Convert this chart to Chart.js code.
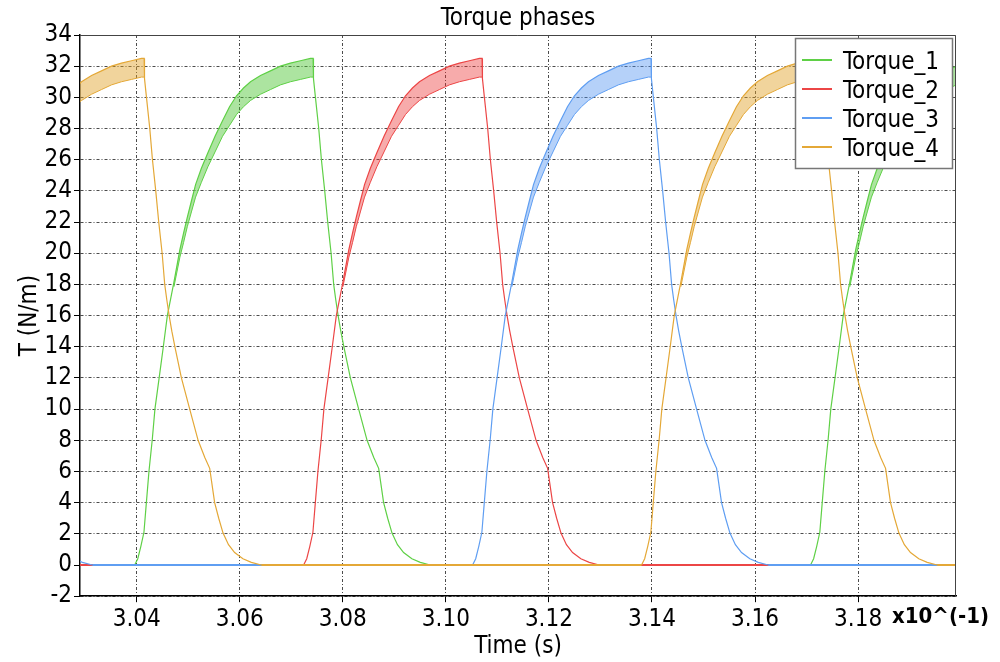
<!DOCTYPE html>
<html>
<head>
<meta charset="utf-8">
<title>Torque phases</title>
<script src="https://cdn.jsdelivr.net/npm/chart.js@4.4.1/dist/chart.umd.min.js"></script>
<style>
  html, body { margin: 0; padding: 0; background: #fff; }
  #wrap { width: 1000px; height: 662px; }
</style>
</head>
<body>
<div id="wrap"><canvas id="chart"></canvas></div>
<script>
// series names and colours
const SERIES = ['Torque_1', 'Torque_2', 'Torque_3', 'Torque_4'];
const LINE_COLORS = ['rgb(95,208,70)', 'rgb(236,70,70)', 'rgb(95,158,242)', 'rgb(228,168,55)'];
const BAND_COLORS = ['rgba(70,195,45,0.45)', 'rgba(235,45,45,0.40)', 'rgba(70,140,240,0.40)', 'rgba(225,160,35,0.45)'];

// axis ticks
const X_TICKS = [3.04, 3.06, 3.08, 3.10, 3.12, 3.14, 3.16, 3.18];
const Y_TICKS = [-2, 0, 2, 4, 6, 8, 10, 12, 14, 16, 18, 20, 22, 24, 26, 28, 30, 32, 34];
const X_MIN = 3.029, X_MAX = 3.199;

// start of each torque pulse
const ONSETS_1 = [3.03961, 3.17077];
const ONSETS_2 = [2.94124, 3.07240];
const ONSETS_3 = [2.97403, 3.10519];
const ONSETS_4 = [3.00682, 3.13798];

// one pulse, time since onset
const PULSE_DT = [0, 0.0006, 0.0012, 0.0018, 0.00227, 0.00277, 0.00343, 0.00393, 0.00475, 0.00556,
  0.00634, 0.00700, 0.00762, 0.00878, 0.00950, 0.01021, 0.01101, 0.01182, 0.01295, 0.01421,
  0.01560, 0.01705, 0.01841, 0.01977, 0.02112, 0.02248, 0.02442, 0.02636, 0.02829, 0.03023,
  0.03217, 0.03411, 0.03463, 0.03470, 0.03508, 0.03572, 0.03624, 0.03688, 0.03746, 0.03812,
  0.03862, 0.03903, 0.03948, 0.04000, 0.04060, 0.04186, 0.04347, 0.04510, 0.04640, 0.04735,
  0.04831, 0.04910, 0.04994, 0.05100, 0.05219, 0.05380, 0.05543, 0.05736];
// trace (upper edge of the ripple where there is one)
const PULSE_TOP = [0, 0.4, 1.2, 2.1, 4.0, 6.0, 8.1, 10, 12, 14,
  16, 17.1, 18.15, 20.25, 21.3, 22.3, 23.35, 24.4, 25.45, 26.45,
  27.5, 28.5, 29.4, 30.1, 30.6, 31.0, 31.4, 31.7, 32.0, 32.2,
  32.35, 32.5, 32.5, 31.2, 30, 28, 26, 24, 22, 20,
  18, 17, 16, 15, 14, 12, 10, 8, 6.9, 6.2,
  4.0, 3.0, 2.05, 1.3, 0.8, 0.4, 0.17, 0];
// lower edge of the ripple
const PULSE_BOTTOM = [null, null, null, null, null, null, null, null, null, null,
  null, null, 17.85, 19.75, 20.7, 21.7, 22.65, 23.6, 24.55, 25.55,
  26.5, 27.5, 28.2, 28.9, 29.4, 29.8, 30.2, 30.5, 30.8, 31.0,
  31.15, 31.3, 31.3, null, null, null, null, null, null, null,
  null, null, null, null, null, null, null, null, null, null,
  null, null, null, null, null, null, null, null];

const ONSETS = [ONSETS_1, ONSETS_2, ONSETS_3, ONSETS_4];

function traceData(onsets) {
  const pts = [{x: 2.90, y: 0}];
  onsets.forEach(t0 => {
    PULSE_DT.forEach((dt, i) => pts.push({x: t0 + dt, y: PULSE_TOP[i]}));
  });
  pts.push({x: 3.30, y: 0});
  return pts;
}

function bandData(onsets) {
  const pts = [];
  onsets.forEach(t0 => {
    PULSE_DT.forEach((dt, i) => {
      if (PULSE_BOTTOM[i] !== null) pts.push({x: t0 + dt, y: PULSE_BOTTOM[i]});
    });
    pts.push({x: t0 + 0.04, y: null});
  });
  return pts;
}

const datasets = [];
SERIES.forEach((name, k) => {
  datasets.push({
    label: name,
    data: traceData(ONSETS[k]),
    borderColor: LINE_COLORS[k],
    borderWidth: 1.2,
    pointRadius: 0,
    fill: false,
    order: 4 - k,
    // flat stretches along zero read a little heavier
    segment: {
      borderWidth: c => (c.p0.parsed.y === 0 && c.p1.parsed.y === 0) ? 2 : undefined
    }
  });
  datasets.push({
    label: name + ' ripple',
    data: bandData(ONSETS[k]),
    borderColor: LINE_COLORS[k],
    backgroundColor: BAND_COLORS[k],
    borderWidth: 1,
    pointRadius: 0,
    spanGaps: false,
    fill: '-1',
    order: 4 - k
  });
});

const FONT = "'DejaVu Sans Condensed', 'DejaVu Sans', sans-serif";

const boxPlugin = {
  id: 'boxPlugin',
  afterDraw(chart) {
    const ctx = chart.ctx;
    const a = chart.chartArea;
    ctx.save();
    // top and right frame
    ctx.strokeStyle = '#444';
    ctx.lineWidth = 1;
    ctx.beginPath();
    ctx.moveTo(a.left, a.top + 0.5);
    ctx.lineTo(a.right - 0.5, a.top + 0.5);
    ctx.lineTo(a.right - 0.5, a.bottom);
    ctx.stroke();

    // title, centred over the plot
    ctx.fillStyle = '#000';
    ctx.font = "24px " + FONT;
    ctx.textAlign = 'center';
    ctx.textBaseline = 'middle';
    ctx.fillText('Torque phases', (a.left + a.right) / 2, 19);

    // axis multiplier
    ctx.font = "bold 22px " + FONT;
    ctx.textAlign = 'left';
    ctx.fillText('x10^(-1)', 892, 617);

    // legend
    const bx = 795.5, by = 38.5, bw = 157, bh = 130;
    ctx.fillStyle = '#fff';
    ctx.fillRect(bx, by, bw, bh);
    ctx.strokeStyle = '#777';
    ctx.lineWidth = 1.5;
    ctx.strokeRect(bx, by, bw, bh);
    ctx.font = "24px " + FONT;
    ctx.textBaseline = 'alphabetic';
    SERIES.forEach((name, k) => {
      const y = 60 + 29 * k;
      ctx.strokeStyle = LINE_COLORS[k];
      ctx.lineWidth = 2;
      ctx.beginPath();
      ctx.moveTo(802, y);
      ctx.lineTo(832, y);
      ctx.stroke();
      ctx.fillStyle = '#000';
      ctx.fillText(name, 843, y + 9);
    });
    ctx.restore();
  }
};

new Chart(document.getElementById('chart'), {
  type: 'line',
  data: { datasets: datasets },
  options: {
    responsive: true,
    maintainAspectRatio: false,
    animation: false,
    events: [],
    layout: { padding: { left: 0, right: 44, top: 35, bottom: 0 } },
    plugins: {
      legend: { display: false },
      tooltip: { enabled: false },
      title: { display: false }
    },
    scales: {
      x: {
        type: 'linear',
        min: X_MIN,
        max: X_MAX,
        afterBuildTicks: s => { s.ticks = X_TICKS.map(v => ({ value: v })); },
        afterFit: s => { s.height = 65.82; },
        ticks: {
          autoSkip: false,
          maxRotation: 0,
          padding: 3,
          color: '#000',
          font: { family: FONT, size: 24 },
          callback: v => v.toFixed(2)
        },
        grid: { color: 'rgba(30,30,30,0.8)', lineWidth: 1, tickLength: 6, tickColor: '#000' },
        border: { display: true, color: '#000', width: 1.5, dash: [3, 2, 1, 2] },
        title: {
          display: true,
          text: 'Time (s)',
          color: '#000',
          font: { family: FONT, size: 24 },
          padding: { top: 0, bottom: 0.5 }
        }
      },
      y: {
        min: -2,
        max: 34,
        afterBuildTicks: s => { s.ticks = Y_TICKS.map(v => ({ value: v })); },
        afterFit: s => { s.width = 80; },
        ticks: {
          autoSkip: false,
          padding: 2,
          color: '#000',
          font: { family: FONT, size: 24 }
        },
        grid: { color: 'rgba(30,30,30,0.8)', lineWidth: 1, tickLength: 6, tickColor: '#000' },
        border: { display: true, color: '#000', width: 1.5, dash: [3, 2, 1, 2] },
        title: {
          display: true,
          text: 'T (N/m)',
          color: '#000',
          font: { family: FONT, size: 24 },
          padding: { top: 15.6, bottom: 0 }
        }
      }
    }
  },
  plugins: [boxPlugin]
});
</script>
</body>
</html>
